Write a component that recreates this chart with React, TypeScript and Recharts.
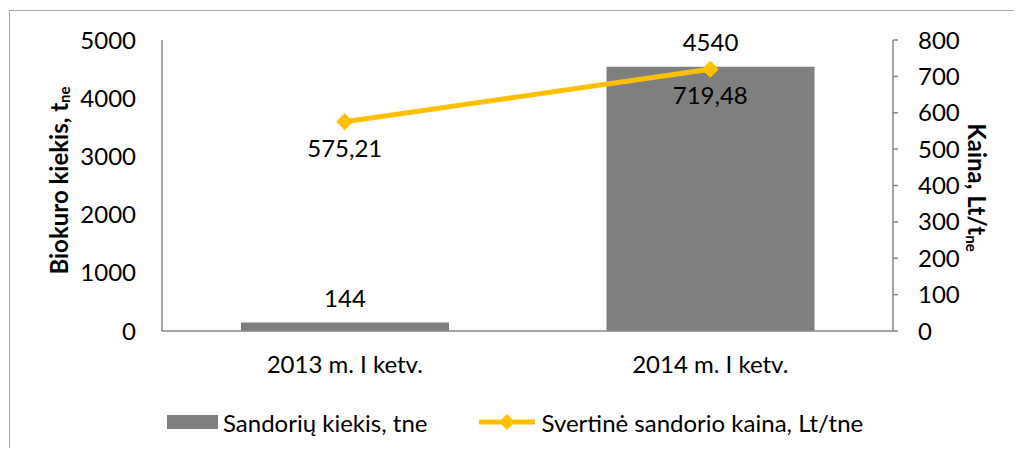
import React from 'react';
import {
  ComposedChart,
  Bar,
  Line,
  XAxis,
  YAxis,
  LabelList,
  Legend,
} from 'recharts';

const categories = ['2013 m. I ketv.', '2014 m. I ketv.'];
const quantity = [144, 4540];
const price = [575.21, 719.48];
const priceLabels = ['575,21', '719,48'];
const leftTicks = [0, 1000, 2000, 3000, 4000, 5000];
const rightTicks = [0, 100, 200, 300, 400, 500, 600, 700, 800];

const data = categories.map((c, i) => ({
  name: c,
  qty: quantity[i],
  price: price[i],
  priceLabel: priceLabels[i],
}));

const FONT = 'Lato, "Noto Sans", sans-serif';
const FS = 24;
const BAR = '#7F7F7F';
const LINE = '#FFC000';
const AXIS = '#868686';

const Diamond = (props: any) => {
  const { cx, cy } = props;
  if (cx == null || cy == null) return null;
  const r = 8;
  return (
    <path
      d={`M${cx},${cy - r} L${cx + r},${cy} L${cx},${cy + r} L${cx - r},${cy} Z`}
      fill={LINE}
      stroke={LINE}
    />
  );
};

const LeftTitle = (props: any) => {
  const vb = props.viewBox || {};
  const cx = 50;
  const cy = vb.y + vb.height / 2 - 5;
  return (
    <text
      x={cx}
      y={cy}
      transform={`rotate(-90, ${cx}, ${cy})`}
      textAnchor="middle"
      fontFamily={FONT}
      fontWeight="bold"
      fontSize={FS}
      fill="#000"
      dominantBaseline="central"
    >
      <tspan>Biokuro kiekis, t</tspan>
      <tspan dy={6} fontSize={15}>ne</tspan>
    </text>
  );
};

const RightTitle = (props: any) => {
  const vb = props.viewBox || {};
  const cx = 970;
  const cy = vb.y + vb.height / 2 + 2;
  return (
    <text
      x={cx}
      y={cy}
      transform={`rotate(90, ${cx}, ${cy})`}
      textAnchor="middle"
      fontFamily={FONT}
      fontWeight="bold"
      fontSize={FS}
      fill="#000"
      dominantBaseline="central"
    >
      <tspan>Kaina, Lt/t</tspan>
      <tspan dy={6} fontSize={15}>ne</tspan>
    </text>
  );
};

const LegendContent = () => (
  <div
    style={{
      height: 40,
      display: 'flex',
      alignItems: 'center',
      paddingLeft: 159,
      fontFamily: FONT,
      fontSize: FS,
      color: '#000',
      whiteSpace: 'nowrap',
    }}
  >
    <svg width={51} height={14} style={{ marginRight: 5 }}>
      <rect x={0} y={0} width={51} height={14} fill={BAR} />
    </svg>
    <span>Sandorių kiekis, tne</span>
    <svg width={56} height={20} style={{ marginLeft: 52, marginRight: 6 }}>
      <line x1={0} y1={10} x2={56} y2={10} stroke={LINE} strokeWidth={5} />
      <path d="M28,2 L36,10 L28,18 L20,10 Z" fill={LINE} />
    </svg>
    <span>Svertinė sandorio kaina, Lt/tne</span>
  </div>
);

export default function App() {
  return (
    <div style={{ position: 'relative', width: 1014, height: 440, overflow: 'hidden' }}>
      <div
        style={{
          position: 'absolute',
          left: 1,
          top: 2,
          width: 1100,
          height: 600,
          border: '1.5px solid #a6a6a6',
          boxSizing: 'border-box',
        }}
      />
      <div style={{ position: 'absolute', left: 0, top: 0 }}>
        <ComposedChart
          width={1014}
          height={440}
          data={data}
          margin={{ top: 32, right: 0, bottom: 27, left: 0 }}
          barCategoryGap="43%"
        >
          <XAxis
            dataKey="name"
            xAxisId="x"
            axisLine={{ stroke: AXIS, strokeWidth: 1.5 }}
            tickLine={false}
            tickSize={0}
            tickMargin={25}
            height={50}
            tick={{ fontFamily: FONT, fontSize: FS, fill: '#000' }}
          />
          <YAxis
            yAxisId="left"
            orientation="left"
            width={154}
            domain={[0, 5000]}
            ticks={leftTicks}
            interval={0}
            axisLine={{ stroke: AXIS, strokeWidth: 1.5 }}
            tickLine={false}
            tickSize={0}
            tickMargin={26}
            tick={{ fontFamily: FONT, fontSize: FS, fill: '#000' }}
            label={<LeftTitle />}
          />
          <YAxis
            yAxisId="right"
            orientation="right"
            width={129}
            domain={[0, 800]}
            ticks={rightTicks}
            interval={0}
            axisLine={{ stroke: AXIS, strokeWidth: 1.5 }}
            tickLine={{ stroke: AXIS, strokeWidth: 1.5 }}
            tickSize={5}
            tickMargin={20}
            tick={{ fontFamily: FONT, fontSize: FS, fill: '#000', textAnchor: 'start' }}
            label={<RightTitle />}
          />
          <Legend
            verticalAlign="bottom"
            content={<LegendContent />}
            wrapperStyle={{ top: 394, left: 0, width: 1014, height: 40 }}
          />
          <Bar
            xAxisId="x"
            yAxisId="left"
            dataKey="qty"
            name="Sandorių kiekis, tne"
            fill={BAR}
            barSize={208}
            isAnimationActive={false}
          >
            <LabelList
              dataKey="qty"
              position="top"
              offset={16}
              fill="#000"
              fontFamily={FONT}
              fontSize={FS}
            />
          </Bar>
          <Line
            xAxisId="x"
            yAxisId="right"
            dataKey="price"
            name="Svertinė sandorio kaina, Lt/tne"
            stroke={LINE}
            strokeWidth={5}
            dot={<Diamond />}
            activeDot={false}
            isAnimationActive={false}
          >
            <LabelList
              dataKey="priceLabel"
              position="bottom"
              offset={18}
              fill="#000"
              fontFamily={FONT}
              fontSize={FS}
            />
          </Line>
        </ComposedChart>
      </div>
    </div>
  );
}
